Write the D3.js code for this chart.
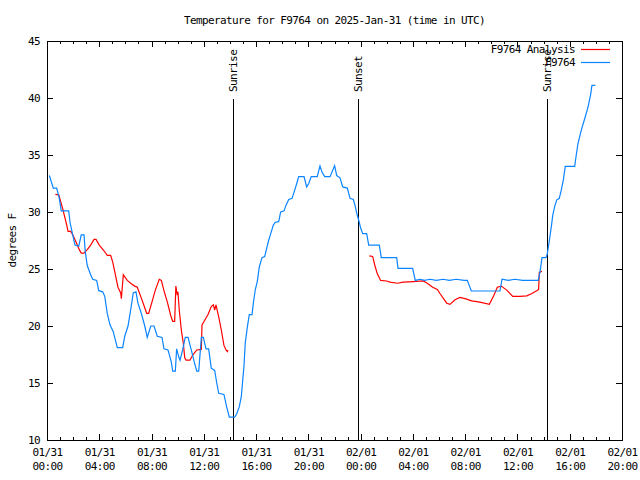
<!DOCTYPE html>
<html>
<head>
<meta charset="utf-8">
<script src="https://cdn.jsdelivr.net/npm/d3@7"></script>
<style>
  html, body { margin: 0; padding: 0; background: #fff; }
  svg { display: block; }
  text { font-family: "DejaVu Sans Mono", "Liberation Mono", monospace; font-size: 11px; letter-spacing: -0.6px; fill: #000; }
</style>
</head>
<body>
<svg id="chart" width="640" height="480"></svg>
<script>
// ---------- DATA ----------
const titleText = "Temperature for F9764 on 2025-Jan-31 (time in UTC)";
const yLabelText = "degrees F";
const seriesNames = ["F9764 Analysis", "F9764"];
const seriesColors = ["#ff0000", "#0a84ff"];

// hours since 2025-01-31 00:00 UTC
const xTickHours = [0, 4, 8, 12, 16, 20, 24, 28, 32, 36, 40, 44];
const yTicks = [10, 15, 20, 25, 30, 35, 40, 45];

const eventNames = ["Sunrise", "Sunset", "Sunrise"];
const eventHours = [14.27, 23.82, 38.28];

// F9764 observations
const obsHours = [0.18,0.48,0.74,0.94,1.09,1.66,1.76,1.91,2.14,2.43,2.62,2.83,2.93,3.08,3.34,3.50,3.80,3.96,4.26,4.42,4.61,4.82,5.07,5.38,5.79,5.95,6.20,6.40,6.60,6.81,6.96,7.22,7.48,7.67,7.94,8.19,8.44,8.80,8.95,9.26,9.51,9.62,9.82,9.92,10.08,10.18,10.38,10.58,10.79,11.04,11.30,11.46,11.61,11.81,11.96,12.17,12.37,12.57,12.83,12.99,13.14,13.54,13.75,13.95,14.36,14.52,14.71,14.87,14.98,15.07,15.17,15.33,15.48,15.69,15.79,15.94,16.09,16.25,16.45,16.66,16.81,16.96,17.12,17.32,17.47,17.73,17.88,18.14,18.29,18.50,18.75,18.95,19.11,19.26,19.67,19.87,20.03,20.22,20.68,20.89,21.04,21.25,21.66,22.01,22.17,22.42,22.63,22.98,23.19,23.44,23.59,23.70,23.85,24.00,24.16,24.46,24.62,25.43,25.58,26.76,26.86,27.98,28.18,28.54,28.90,29.30,29.80,30.30,30.80,31.30,31.91,32.16,32.47,34.66,34.82,35.30,35.80,36.40,37.00,37.59,37.72,37.88,38.18,38.28,38.44,38.59,38.70,38.85,39.00,39.20,39.35,39.51,39.66,40.38,40.48,40.63,40.89,41.15,41.40,41.60,41.70,41.96];
const obsTemps = [33.2,32.1,32.1,31.2,30.1,30.1,29.1,28.3,27.1,27.0,28.0,28.0,26.5,25.3,24.5,24.1,24.0,23.1,23.0,22.6,21.1,20.1,19.5,18.1,18.1,19.1,20.0,21.4,22.9,23.0,22.0,21.1,20.0,19.0,20.0,20.0,19.1,19.0,18.0,17.9,16.85,16.05,16.05,18.0,17.3,17.0,17.9,19.0,19.0,17.9,16.7,16.05,16.05,19.0,19.0,18.0,18.0,16.3,16.1,15.0,14.1,14.0,12.9,12.0,12.0,12.3,12.9,13.8,15.3,16.4,18.5,19.9,21.0,21.0,22.0,23.2,23.9,25.2,26.0,26.1,26.8,27.5,28.1,28.85,29.1,29.15,30.0,30.1,30.6,31.1,31.2,31.9,32.5,33.1,33.1,32.2,32.5,33.1,33.1,34.05,33.5,33.1,33.1,34.05,33.2,33.0,32.2,32.1,31.2,31.1,30.5,29.9,29.3,28.6,28.1,28.1,27.1,27.1,26.0,26.0,25.05,25.05,24.0,24.1,24.0,24.1,24.0,24.1,24.0,24.1,24.0,24.0,23.07,23.07,24.1,24.0,24.1,24.0,24.0,24.0,24.7,26.0,26.0,26.3,27.5,28.7,29.7,30.5,31.05,31.2,31.9,32.8,34.0,34.0,34.85,36.0,37.2,38.2,39.2,40.3,41.1,41.1];

// F9764 Analysis (null = gap)
const anaHours = [0.64,0.90,1.05,1.20,1.35,1.51,1.61,1.81,1.97,2.17,2.32,2.47,2.62,2.83,3.08,3.34,3.60,3.75,4.00,4.36,4.61,4.87,5.03,5.18,5.43,5.64,5.69,5.84,6.14,6.45,6.71,6.91,7.17,7.42,7.63,7.78,8.03,8.29,8.59,8.75,8.95,9.21,9.47,9.62,9.77,9.86,9.97,10.02,10.12,10.28,10.43,10.54,10.64,10.94,11.15,11.46,11.81,11.86,12.07,12.32,12.57,12.73,12.83,12.93,13.14,13.34,13.54,13.70,13.80,13.85,
  19.0,
  24.66,24.92,25.08,25.27,25.53,25.99,26.25,26.81,27.26,28.03,28.79,29.10,29.51,29.87,30.07,30.59,30.84,31.22,31.60,31.99,32.50,33.13,33.85,34.20,34.46,34.76,35.18,35.64,36.19,36.71,37.11,37.47,37.62,37.67,37.88];
const anaTemps = [31.55,31.5,30.9,30.3,29.6,28.85,28.3,28.3,28.0,27.5,27.1,26.7,26.4,26.4,26.7,27.1,27.6,27.6,27.1,26.6,26.2,26.2,25.6,24.8,23.4,22.9,22.4,24.5,24.0,23.7,23.5,23.4,22.6,21.8,21.1,21.1,22.1,23.15,24.1,24.0,23.1,22.1,20.9,20.4,20.4,23.5,22.7,23.0,21.4,19.65,18.5,17.2,17.0,17.0,17.45,17.9,17.95,20.1,20.5,21.0,21.7,21.85,21.4,21.85,20.8,19.65,18.3,17.9,17.75,17.9,
  null,
  26.15,26.1,25.35,24.6,24.0,23.95,23.85,23.75,23.85,23.9,23.95,23.75,23.4,23.2,22.85,22.0,21.9,22.3,22.5,22.4,22.2,22.1,21.9,22.7,23.4,23.5,23.15,22.6,22.6,22.65,22.85,23.1,23.2,24.7,24.8];

// ---------- CHART ----------
const start = Date.UTC(2025, 0, 31, 0, 0);
const toDate = h => new Date(start + h * 3600e3);

const L = 47, R = 622, T = 41, B = 440;
const svg = d3.select("#chart");

const x = d3.scaleUtc().domain([toDate(0), toDate(44)]).range([L, R]);
const y = d3.scaleLinear().domain([10, 45]).range([B, T]);

const fmtDay = d3.utcFormat("%m/%d");
const fmtTime = d3.utcFormat("%H:%M");

// Title
svg.append("text").attr("x", (L + R) / 2).attr("y", 24)
  .attr("text-anchor", "middle").text(titleText);

// Y label
svg.append("text").attr("transform", `translate(12,${(T + B) / 2}) rotate(-90)`)
  .attr("text-anchor", "middle").attr("dy", "0.35em").text(yLabelText);

const xTickDates = xTickHours.map(toDate);
const minorDates = d3.range(0, 45, 1).map(toDate);

// bottom axis (major)
const gB = svg.append("g").attr("transform", `translate(0,${B})`)
  .call(d3.axisBottom(x).tickValues(xTickDates).tickSize(-6).tickFormat(""));
gB.selectAll(".tick").each(function(d) {
  const t = d3.select(this).append("text").attr("text-anchor", "middle").attr("y", 16);
  t.append("tspan").attr("x", 0).text(fmtDay(d));
  t.append("tspan").attr("x", 0).attr("dy", 14).text(fmtTime(d));
});
// bottom minor
svg.append("g").attr("transform", `translate(0,${B})`)
  .call(d3.axisBottom(x).tickValues(minorDates).tickSize(-3).tickFormat(""));
// top axis
svg.append("g").attr("transform", `translate(0,${T})`)
  .call(d3.axisTop(x).tickValues(xTickDates).tickSize(-6).tickFormat(""));
svg.append("g").attr("transform", `translate(0,${T})`)
  .call(d3.axisTop(x).tickValues(minorDates).tickSize(-3).tickFormat(""));

// left axis
const gL = svg.append("g").attr("transform", `translate(${L},0)`)
  .call(d3.axisLeft(y).tickValues(yTicks).tickSize(-6).tickPadding(7).tickFormat(d3.format("d")));
// right axis
svg.append("g").attr("transform", `translate(${R},0)`)
  .call(d3.axisRight(y).tickValues(yTicks).tickSize(-6).tickFormat(""));

svg.selectAll(".domain").remove();
svg.selectAll(".tick line").attr("stroke", "#000").attr("shape-rendering", "crispEdges");
svg.selectAll("g text").attr("font-size", null).attr("font-family", null).attr("fill", "#000");

// border
svg.append("rect").attr("x", L).attr("y", T).attr("width", R - L).attr("height", B - T)
  .attr("fill", "none").attr("stroke", "#000").attr("shape-rendering", "crispEdges");

// sunrise / sunset
const ev = svg.append("g");
eventHours.forEach((h, i) => {
  const xx = Math.round(x(toDate(h))) + 0.5;
  ev.append("line").attr("x1", xx).attr("x2", xx).attr("y1", 99).attr("y2", B)
    .attr("stroke", "#000").attr("stroke-width", 1).attr("shape-rendering", "crispEdges");
  ev.append("text").attr("transform", `translate(${xx},92) rotate(-90)`)
    .attr("text-anchor", "start").attr("dy", "0.35em").text(eventNames[i]);
});

// lines
const anaData = anaHours.map((h, i) => ({ t: toDate(h), v: anaTemps[i] }));
const obsData = obsHours.map((h, i) => ({ t: toDate(h), v: obsTemps[i] }));
const line = d3.line().defined(d => d.v !== null).x(d => x(d.t)).y(d => y(d.v));

svg.append("path").datum(anaData).attr("d", line)
  .attr("fill", "none").attr("stroke", seriesColors[0]).attr("stroke-width", 1.2);
svg.append("path").datum(obsData).attr("d", line)
  .attr("fill", "none").attr("stroke", seriesColors[1]).attr("stroke-width", 1.2);

// legend
const leg = svg.append("g");
seriesNames.forEach((n, i) => {
  const yy = 49 + i * 13;
  leg.append("text").attr("x", 575).attr("y", yy).attr("dy", "0.35em")
    .attr("text-anchor", "end").text(n);
  leg.append("line").attr("x1", 581).attr("x2", 610).attr("y1", yy + 0.5).attr("y2", yy + 0.5)
    .attr("stroke", seriesColors[i]).attr("stroke-width", 1.2);
});
</script>
</body>
</html>
